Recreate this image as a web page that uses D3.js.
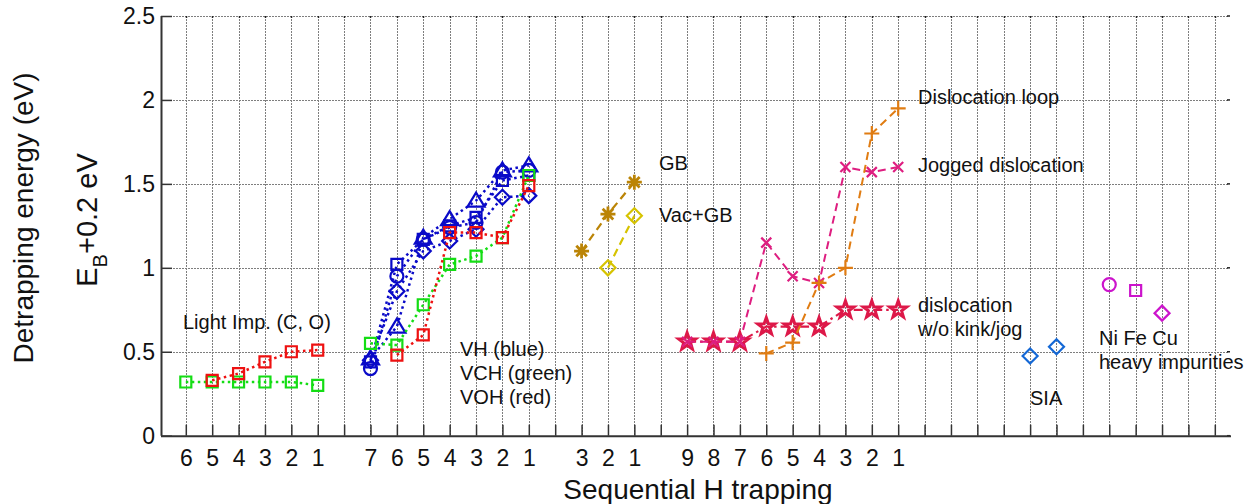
<!DOCTYPE html>
<html>
<head>
<meta charset="utf-8">
<script src="https://cdn.jsdelivr.net/npm/d3@7"></script>
<style>
  html, body { margin: 0; padding: 0; background: #fff; }
  svg { display: block; font-family: "Liberation Sans", Arial, Helvetica, sans-serif; }
</style>
</head>
<body>
<svg id="chart" width="1255" height="504"></svg>
<script>
// ---- tick labels for each group of trapping sites (H count, descending) ----
const lightTicks = ["6", "5", "4", "3", "2", "1"];            // slots 1..6
const vacTicks   = ["7", "6", "5", "4", "3", "2", "1"];       // slots 8..14
const gbTicks    = ["3", "2", "1"];                           // slots 16..18
const dislTicks  = ["9", "8", "7", "6", "5", "4", "3", "2", "1"]; // slots 20..28
const lightStart = 1, vacStart = 8, gbStart = 16, dislStart = 20;
const siaSlots = [33, 34];
const heavySlots = [36, 37, 38];

// ---- detrapping energies (eV) ----
// light impurities
const lightC = [0.32, 0.32, 0.32, 0.32, 0.32, 0.30];
const lightO = [null, 0.33, 0.37, 0.44, 0.50, 0.51];
// vacancy-hydrogen clusters
const vhCircle   = [0.40, 0.95, 1.17, 1.24, 1.27, 1.57, 1.58];
const vhSquare   = [0.44, 1.02, 1.17, 1.25, 1.30, 1.52, 1.55];
const vhDiamond  = [0.45, 0.86, 1.10, 1.16, 1.23, 1.42, 1.43];
const vhTriangle = [0.46, 0.65, 1.18, 1.29, 1.40, 1.58, 1.61];
const vch = [0.55, 0.54, 0.78, 1.02, 1.07, 1.18, 1.55];
const voh = [null, 0.48, 0.60, 1.21, 1.21, 1.18, 1.49];
// grain boundary
const gb    = [1.10, 1.32, 1.51];
const vacGb = [null, 1.00, 1.31];
// dislocations
const dislPlain  = [0.56, 0.56, 0.56, 0.65, 0.65, 0.65, 0.75, 0.75, 0.75];
const dislJogged = [0.56, 0.56, 0.56, 1.15, 0.95, 0.91, 1.60, 1.57, 1.60];
const dislLoop   = [null, null, null, 0.49, 0.555, 0.91, 1.00, 1.80, 1.95];
// self-interstitial and heavy impurities
const sia   = [0.475, 0.53];
const heavy = [0.90, 0.865, 0.73]; // Ni, Fe, Cu
const yTicks = [0, 0.5, 1, 1.5, 2, 2.5];

// ---- layout ----
const svg = d3.select("#chart");
const x = d3.scaleLinear().domain([0.06, 40.5]).range([161, 1228]);
const y = d3.scaleLinear().domain([0, 2.5]).range([435.7, 16]);
const FONT = '"Liberation Sans", Arial, Helvetica, sans-serif';

// tick label lookup by slot
const tickLabel = new Map();
[[lightTicks, lightStart], [vacTicks, vacStart], [gbTicks, gbStart], [dislTicks, dislStart]]
  .forEach(([labels, start]) => labels.forEach((l, i) => tickLabel.set(start + i, l)));
const xSlots = d3.range(1, 41);

// grid
const grid = svg.append("g").attr("stroke", "#7e7e7e").attr("stroke-width", 1)
  .attr("stroke-dasharray", "2,1").attr("fill", "none");
grid.selectAll("line.v").data(xSlots).join("line").attr("class", "v")
  .attr("x1", d => Math.round(x(d)) + 0.5).attr("x2", d => Math.round(x(d)) + 0.5)
  .attr("y1", y(2.5)).attr("y2", y(0));
grid.selectAll("line.h").data(yTicks.filter(d => d > 0)).join("line").attr("class", "h")
  .attr("x1", x.range()[0]).attr("x2", x.range()[1])
  .attr("y1", d => Math.round(y(d)) + 0.5).attr("y2", d => Math.round(y(d)) + 0.5);

// small ticks on top and right edges
const edge = svg.append("g").attr("stroke", "#222").attr("stroke-width", 1.5);
edge.selectAll("line.t").data(xSlots).join("line").attr("class", "t")
  .attr("x1", d => Math.round(x(d)) + 0.5).attr("x2", d => Math.round(x(d)) + 0.5)
  .attr("y1", y(2.5)).attr("y2", y(2.5) + 2);
edge.selectAll("line.r").data(yTicks).join("line").attr("class", "r")
  .attr("x1", x.range()[1] - 1).attr("x2", x.range()[1] + 2)
  .attr("y1", d => y(d)).attr("y2", d => y(d));

// axes
const yAxis = d3.axisLeft(y).tickValues(yTicks).tickFormat(d => String(d))
  .tickSizeInner(-11).tickSizeOuter(0).tickPadding(6);
const gy = svg.append("g").attr("transform", `translate(${x.range()[0]},0)`).call(yAxis);
const xAxis = d3.axisBottom(x).tickValues(xSlots).tickFormat(d => tickLabel.get(d) || "")
  .tickSizeInner(-11).tickSizeOuter(0).tickPadding(14);
const gx = svg.append("g").attr("transform", `translate(0,${y(0)})`).call(xAxis);
[gx, gy].forEach(g => {
  g.select(".domain").attr("stroke", "#333").attr("stroke-width", 2);
  g.selectAll(".tick line").attr("stroke", "#333").attr("stroke-width", 1.5);
  g.selectAll(".tick text").attr("fill", "#111").attr("font-size", 23).attr("font-family", FONT);
});
gy.select(".domain").attr("d", `M0.5,${y(0)}V${y(2.5)}`);
gx.select(".domain").attr("d", `M${x.range()[0]},0.5H${x.range()[1] + 3}`);

// ---- marker shapes ----
function starPath(R, r) {
  const pts = d3.range(10).map(i => {
    const a = -Math.PI / 2 + i * Math.PI / 5, rr = i % 2 ? r : R;
    return [rr * Math.cos(a), rr * Math.sin(a)];
  });
  return "M" + pts.map(p => p.join(",")).join("L") + "Z";
}
const markers = {
  square:   "M-5.5,-5.5H5.5V5.5H-5.5Z",
  circle:   "M6.5,0A6.5,6.5 0 1 1 -6.5,0A6.5,6.5 0 1 1 6.5,0Z",
  diamond:  "M0,-7.5L7.5,0L0,7.5L-7.5,0Z",
  triangle: "M0,-8L8.5,6L-8.5,6Z",
  pentagram: starPath(9, 3.6),
  asterisk: "M-7.5,0H7.5M0,-7.5V7.5M-5.3,-5.3L5.3,5.3M-5.3,5.3L5.3,-5.3",
  plus:     "M-7.5,0H7.5M0,-7.5V7.5",
  cross:    "M-5,-5L5,5M-5,5L5,-5"
};

const DOT = "2.5,3.5", DASH = "8,5", DASHDOT = "9,4,2.5,4";
const C = {
  blue: "#0a0ac8", green: "#14dd14", red: "#ee1111",
  gb: "#bb8406", vacgb: "#d6c300",
  plain: "#dd1848", jog: "#de1e80", loop: "#e07c12",
  sia: "#1468d6", heavy: "#cc14cc"
};

// series drawn in stacking order
const series = [
  { vals: lightC, start: lightStart, color: C.green, dash: DOT, lw: 2.5, m: "square" },
  { vals: lightO, start: lightStart, color: C.red, dash: DOT, lw: 2.5, m: "square" },
  { vals: vhCircle, start: vacStart, color: C.blue, dash: DOT, lw: 2.5, m: "circle" },
  { vals: vhSquare, start: vacStart, color: C.blue, dash: DOT, lw: 2.5, m: "square" },
  { vals: vhDiamond, start: vacStart, color: C.blue, dash: DOT, lw: 2.5, m: "diamond" },
  { vals: vhTriangle, start: vacStart, color: C.blue, dash: DOT, lw: 2.5, m: "triangle" },
  { vals: vch, start: vacStart, color: C.green, dash: DOT, lw: 2.5, m: "square" },
  { vals: voh, start: vacStart, color: C.red, dash: DOT, lw: 2.5, m: "square" },
  { vals: gb, start: gbStart, color: C.gb, dash: DASH, lw: 2.2, m: "asterisk", mw: 2.8 },
  { vals: vacGb, start: gbStart, color: C.vacgb, dash: DASH, lw: 2.2, m: "diamond" },
  { vals: dislPlain, start: dislStart, color: C.plain, dash: DASHDOT, lw: 2.2, m: "pentagram", mw: 3 },
  { vals: dislJogged, start: dislStart, color: C.jog, dash: DASH, lw: 2, m: "cross" },
  { vals: dislLoop, start: dislStart, color: C.loop, dash: DASH, lw: 2, m: "plus" },
  { vals: sia, slots: siaSlots, color: C.sia, m: "diamond" },
  { vals: [heavy[0]], slots: [heavySlots[0]], color: C.heavy, m: "circle" },
  { vals: [heavy[1]], slots: [heavySlots[1]], color: C.heavy, m: "square" },
  { vals: [heavy[2]], slots: [heavySlots[2]], color: C.heavy, m: "diamond" }
];

const line = d3.line().defined(d => d.v != null).x(d => x(d.s)).y(d => y(d.v));
const plot = svg.append("g");
series.forEach(s => {
  const pts = s.vals.map((v, i) => ({ v, s: s.slots ? s.slots[i] : s.start + i }));
  const g = plot.append("g");
  if (s.dash) {
    g.append("path").datum(pts).attr("d", line).attr("fill", "none")
      .attr("stroke", s.color).attr("stroke-width", s.lw).attr("stroke-dasharray", s.dash);
  }
  g.selectAll("path.mk").data(pts.filter(d => d.v != null)).join("path").attr("class", "mk")
    .attr("d", markers[s.m])
    .attr("transform", d => `translate(${x(d.s)},${y(d.v)})`)
    .attr("fill", "none").attr("stroke", s.color).attr("stroke-width", s.mw || 2.2)
    .attr("stroke-linejoin", "miter");
});

// ---- annotations ----
const notes = [
  { t: "Light Imp. (C, O)", x: 183, y: 329 },
  { t: "VH (blue)", x: 460, y: 356 },
  { t: "VCH (green)", x: 460, y: 380 },
  { t: "VOH (red)", x: 460, y: 404 },
  { t: "GB", x: 659, y: 170 },
  { t: "Vac+GB", x: 659, y: 222 },
  { t: "Dislocation loop", x: 918, y: 104 },
  { t: "Jogged dislocation", x: 918, y: 172 },
  { t: "dislocation", x: 918, y: 312 },
  { t: "w/o kink/jog", x: 918, y: 336 },
  { t: "SIA", x: 1030, y: 405 },
  { t: "Ni Fe Cu", x: 1099, y: 345 },
  { t: "heavy impurities", x: 1099, y: 369 }
];
svg.append("g").selectAll("text").data(notes).join("text")
  .attr("x", d => d.x).attr("y", d => d.y).text(d => d.t)
  .attr("font-size", 20).attr("fill", "#111").attr("font-family", FONT);

// axis titles
svg.append("text").attr("transform", "translate(33,218) rotate(-90)")
  .attr("text-anchor", "middle").attr("font-size", 28).attr("fill", "#111")
  .text("Detrapping energy (eV)");
const eb = svg.append("text").attr("transform", "translate(97,220) rotate(-90)")
  .attr("text-anchor", "middle").attr("font-size", 29).attr("fill", "#111");
eb.append("tspan").text("E");
eb.append("tspan").attr("font-size", 20).attr("dy", 10).text("B");
eb.append("tspan").attr("dy", -10).text("+0.2 eV");
svg.append("text").attr("x", 698).attr("y", 499).attr("text-anchor", "middle")
  .attr("font-size", 28).attr("fill", "#111").text("Sequential H trapping");
</script>
</body>
</html>
